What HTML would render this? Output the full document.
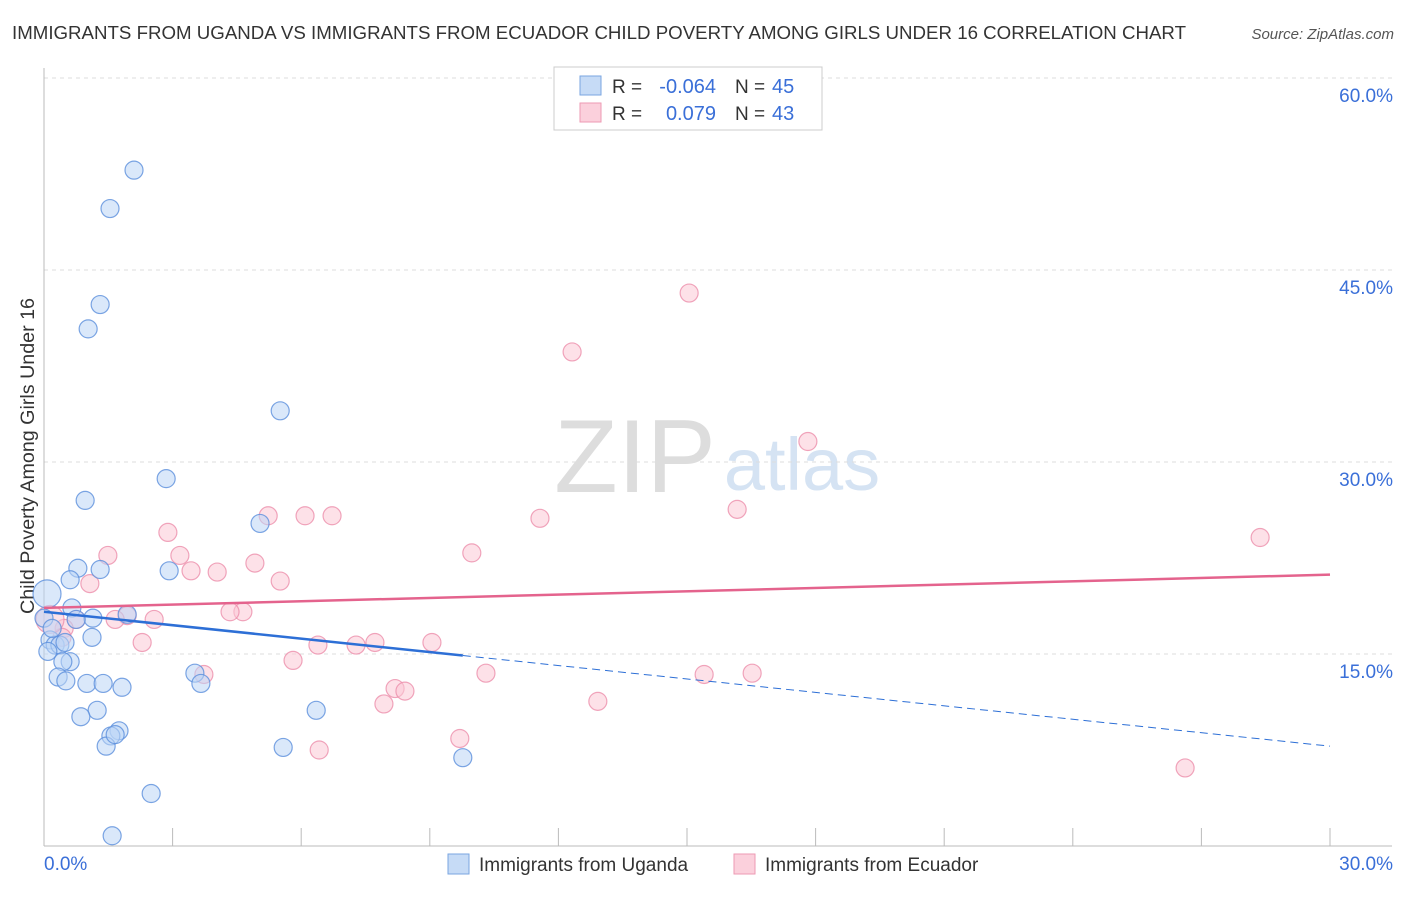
<!DOCTYPE html>
<html><head><meta charset="utf-8"><style>
body{margin:0;background:#fff;font-family:"Liberation Sans",sans-serif;}
svg text{font-family:"Liberation Sans",sans-serif;}
</style></head><body>
<svg id="c" width="1406" height="892" xmlns="http://www.w3.org/2000/svg">
<text x="12" y="39" font-size="18" fill="#333" textLength="1174" lengthAdjust="spacingAndGlyphs">IMMIGRANTS FROM UGANDA VS IMMIGRANTS FROM ECUADOR CHILD POVERTY AMONG GIRLS UNDER 16 CORRELATION CHART</text>
<text x="1394" y="39" font-size="15" fill="#555" font-style="italic" text-anchor="end">Source: ZipAtlas.com</text>
<text x="0" y="0" transform="translate(34,456) rotate(-90)" font-size="19" fill="#333" text-anchor="middle" textLength="316" lengthAdjust="spacingAndGlyphs">Child Poverty Among Girls Under 16</text>
<text x="635" y="492" font-size="104" fill="#ddd" font-family="Liberation Serif" text-anchor="middle">ZIP</text>
<text x="802" y="490" font-size="74" fill="#d5e3f3" text-anchor="middle">atlas</text>
<g id="grid"></g><g id="pts"></g><g id="trend"></g>
<g>
<rect x="554" y="67" width="268" height="63" fill="#fff" stroke="#ccc"/>
<rect x="580" y="76" width="21" height="19" fill="#c6dbf6" stroke="#7aa6e0"/>
<rect x="580" y="103" width="21" height="19" fill="#fbd0dc" stroke="#ee9ab3"/>
<text x="612" y="93" font-size="19" fill="#333">R =</text>
<text x="716" y="93" font-size="20" fill="#3a6fd8" text-anchor="end">-0.064</text>
<text x="735" y="93" font-size="19" fill="#333">N =</text>
<text x="772" y="93" font-size="20" fill="#3a6fd8">45</text>
<text x="612" y="120" font-size="19" fill="#333">R =</text>
<text x="716" y="120" font-size="20" fill="#3a6fd8" text-anchor="end">0.079</text>
<text x="735" y="120" font-size="19" fill="#333">N =</text>
<text x="772" y="120" font-size="20" fill="#3a6fd8">43</text>
</g>
<g>
<rect x="448" y="854" width="21" height="20" fill="#c6dbf6" stroke="#7aa6e0"/>
<text x="479" y="871" font-size="19" fill="#333">Immigrants from Uganda</text>
<rect x="734" y="854" width="21" height="20" fill="#fbd0dc" stroke="#ee9ab3"/>
<text x="765" y="871" font-size="19" fill="#333">Immigrants from Ecuador</text>
</g>
</svg>
<script>
const yTicks=[15,30,45,60];
const yTickLabels=["15.0%","30.0%","45.0%","60.0%"];
const xTickLabels=["0.0%","30.0%"];
const ugX=[2.10,1.54,1.31,1.03,5.51,2.85,0.96,5.04,0.79,1.31,2.92,0.61,0.07,0.65,1.94,1.14,0.75,1.12,0.14,0.26,0.37,0.49,0.09,0.61,0.44,3.52,3.66,0.33,0.51,1.00,1.38,1.82,1.24,0.86,6.35,1.75,1.56,1.45,5.58,9.77,2.50,1.59,1.66,0.0,0.19];
const ugY=[52.8,49.8,42.3,40.4,34.0,28.7,27.0,25.2,21.7,21.6,21.5,20.8,19.7,18.6,18.1,17.8,17.7,16.3,16.1,15.7,15.7,15.9,15.2,14.4,14.4,13.5,12.7,13.2,12.9,12.7,12.7,12.4,10.6,10.1,10.6,9.0,8.6,7.8,7.7,6.9,4.1,0.8,8.7,17.8,17.0];
const ecX=[15.05,12.32,17.82,16.17,11.57,5.23,6.09,6.72,2.89,28.37,1.49,3.17,9.98,4.92,3.43,4.04,5.51,1.07,2.57,4.64,4.34,1.94,1.66,0.75,0.47,0.42,2.29,6.39,7.28,7.72,9.05,5.81,3.73,10.31,15.40,16.52,8.19,8.42,7.93,12.92,6.42,9.70,26.62,0.14];
const ecY=[43.2,38.6,31.6,26.3,25.6,25.8,25.8,25.8,24.5,24.1,22.7,22.7,22.9,22.1,21.5,21.4,20.7,20.5,17.7,18.3,18.3,18.0,17.7,17.7,17.0,16.3,15.9,15.7,15.7,15.9,15.9,14.5,13.4,13.5,13.4,13.5,12.3,12.1,11.1,11.3,7.5,8.4,6.1,17.7];
const ugTrend=[18.3,7.8], ugSolidEnd=9.77;
const ecTrend=[18.6,21.2];
const X=v=>44+v/30*1286, Y=v=>846-v/15*192;
const NS="http://www.w3.org/2000/svg";
function mk(tag,attrs,parent){const e=document.createElementNS(NS,tag);for(const k in attrs)e.setAttribute(k,attrs[k]);document.getElementById(parent).appendChild(e);return e;}
yTicks.forEach((t,i)=>{
 const l=mk('line',{x1:44,x2:1392,y1:Y(t),y2:Y(t),stroke:'#ddd','stroke-dasharray':'4,4'},'grid');
 
 
 const tx=mk('text',{x:1393,y:Y(t)+24,'font-size':19,fill:'#3a6fd8','text-anchor':'end'},'grid');
 tx.textContent=yTickLabels[i];
 
 
});
const ax=mk('line',{x1:44,x2:44,y1:68,y2:846,stroke:'#bbb'},'grid');


const bx=mk('line',{x1:44,x2:1392,y1:846,y2:846,stroke:'#bbb'},'grid');


for(let v=3;v<=30;v+=3){
 const t=mk('line',{x1:X(v),x2:X(v),y1:828,y2:846,stroke:'#bbb'},'grid');
 
 
}
[[0,'start',44],[30,'end',1393]].forEach((a,i)=>{
 const t=mk('text',{x:a[2],y:870,'font-size':19,fill:'#3a6fd8','text-anchor':a[1]},'grid');
 t.textContent=xTickLabels[i];
 
 
});
function pts(xs,ys,fill,stroke,name,bigIdx){
 xs.forEach((x,i)=>{
  const r=i===bigIdx?14:9;
  const c=mk('circle',{cx:X(x),cy:Y(ys[i]),r:r,fill:fill,'fill-opacity':0.55,stroke:stroke,'stroke-opacity':0.8,'stroke-width':1.2},'pts');
  
  
 });
}
pts(ecX,ecY,'#fbc8d6','#ec8fab','ecuador-point',43);
pts(ugX,ugY,'#bcd5f5','#5b8fdc','uganda-point',12);
let l=mk('line',{x1:X(0),y1:Y(ecTrend[0]),x2:X(30),y2:Y(ecTrend[1]),stroke:'#e4638d','stroke-width':2.5},'trend');


const ugAt=v=>ugTrend[0]+(ugTrend[1]-ugTrend[0])*v/30;
l=mk('line',{x1:X(0),y1:Y(ugTrend[0]),x2:X(ugSolidEnd),y2:Y(ugAt(ugSolidEnd)),stroke:'#2d6fd6','stroke-width':2.5},'trend');


l=mk('line',{x1:X(ugSolidEnd),y1:Y(ugAt(ugSolidEnd)),x2:X(30),y2:Y(ugTrend[1]),stroke:'#2d6fd6','stroke-width':1,'stroke-dasharray':'8,5'},'trend');


</script>
</body></html>
